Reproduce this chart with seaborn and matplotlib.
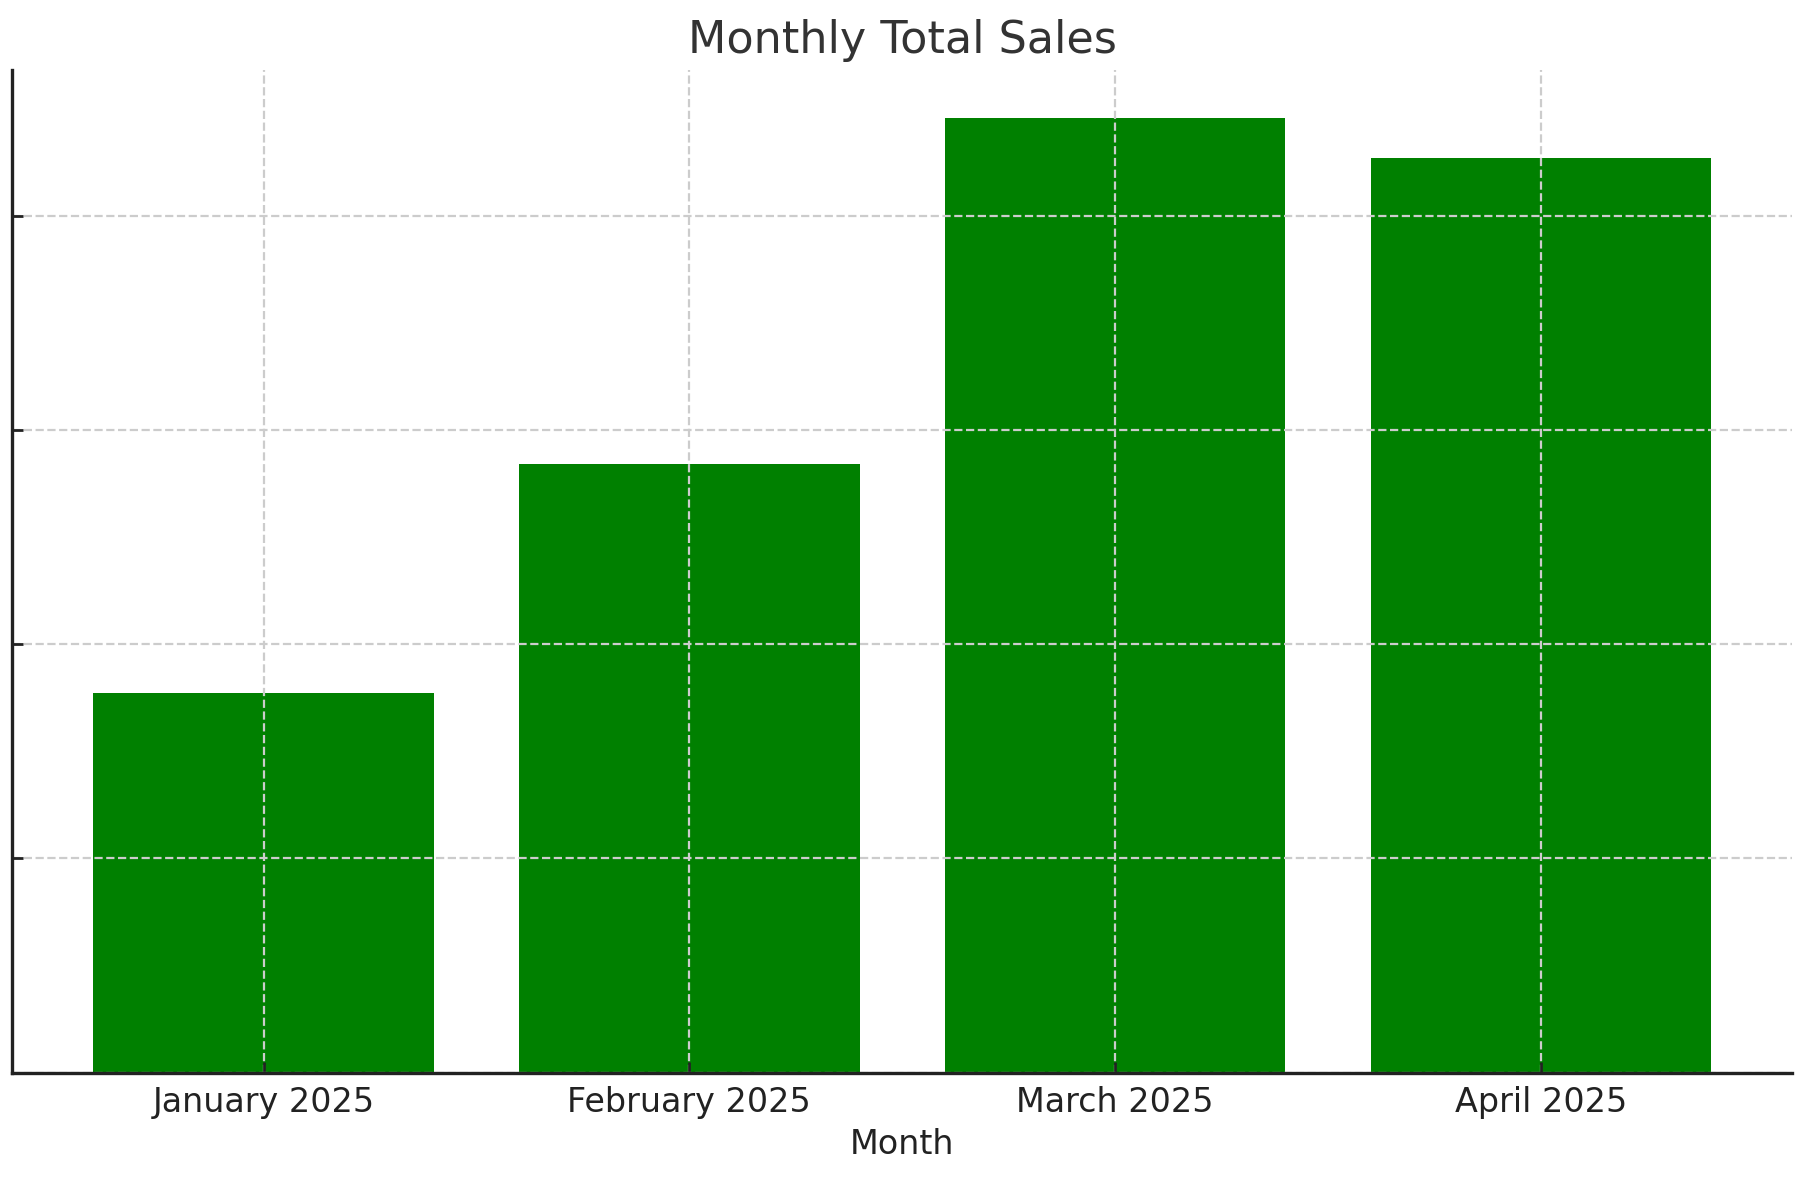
import matplotlib
matplotlib.use("Agg")
import matplotlib.pyplot as plt
import seaborn as sns
import pandas as pd

# data (y tick labels are hidden there, units estimated)
months = ["January 2025", "February 2025", "March 2025", "April 2025"]
total_sales = [17740, 28420, 44600, 42730]
y_ticks = [0, 10000, 20000, 30000, 40000]

df = pd.DataFrame({"Month": months, "Total Sales": total_sales})

sns.set_theme(style="ticks")
plt.rcParams["font.family"] = ["DejaVu Sans"]

fig, ax = plt.subplots(figsize=(9.06, 5.9), dpi=200)
sns.barplot(data=df, x="Month", y="Total Sales", color="green", saturation=1,
            width=0.8, linewidth=0, edgecolor="none", ax=ax)

ax.set_xlim(-0.59, len(months) - 1 + 0.59)
ax.set_ylim(0, max(total_sales) * 1.05)
ax.set_yticks(y_ticks)
ax.set_yticklabels([])

# dashed grid drawn on top of the bars, as in the reference
ax.set_axisbelow(False)
ax.grid(True, linestyle="--", color="#cccccc", linewidth=0.8)
for bar in ax.patches:
    bar.set_zorder(1)

for side in ["top", "right"]:
    ax.spines[side].set_visible(False)
for side in ["left", "bottom"]:
    ax.spines[side].set_color("#222222")
    ax.spines[side].set_linewidth(1.2)
    ax.spines[side].set_zorder(5)

ax.tick_params(axis="both", direction="in", length=4, width=1.0, color="#222222")
ax.tick_params(axis="x", labelsize=12, labelcolor="#222222", pad=5)

ax.set_title("Monthly Total Sales", fontsize=16, color="#333333", pad=6)
ax.set_xlabel("Month", fontsize=12, color="#222222", labelpad=3)
ax.set_ylabel("")

fig.subplots_adjust(left=0.0068, right=0.989, top=0.9407, bottom=0.0911)
fig.savefig("out.png", dpi=200)
